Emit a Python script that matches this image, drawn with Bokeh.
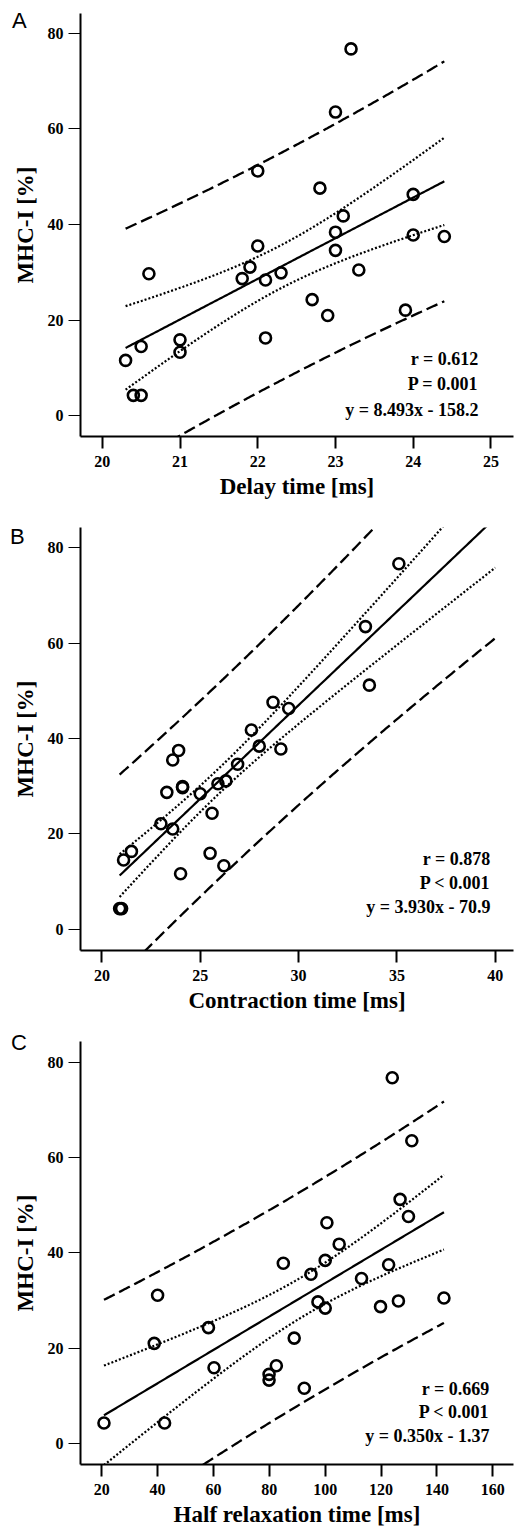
import numpy as np
from bokeh.plotting import figure
from bokeh.models import Label, FixedTicker, Range1d, Div
from bokeh.layouts import column
from bokeh.embed import file_html
from bokeh.resources import INLINE

# ---- data ----
mhc = [76.7, 63.5, 51.2, 47.6, 46.3, 41.8, 38.4, 37.8, 37.5, 35.5, 34.6, 31.1, 30.5, 29.9,
       29.7, 28.7, 28.4, 24.3, 22.1, 21.0, 16.3, 15.9, 14.5, 13.3, 11.6, 4.3, 4.3]
delay = [23.2, 23.0, 22.0, 22.8, 24.0, 23.1, 23.0, 24.0, 24.4, 22.0, 23.0, 21.9, 23.3, 22.3,
         20.6, 21.8, 22.1, 22.7, 23.9, 22.9, 22.1, 21.0, 20.5, 21.0, 20.3, 20.4, 20.5]
contraction = [35.1, 33.4, 33.6, 28.7, 29.5, 27.6, 28.0, 29.1, 23.9, 23.6, 26.9, 26.3, 25.9, 24.1,
               24.1, 23.3, 25.0, 25.6, 23.0, 23.6, 21.5, 25.5, 21.1, 26.2, 24.0, 20.9, 21.0]
half_relax = [124.0, 131.0, 126.8, 129.8, 100.6, 105.0, 100.0, 85.0, 122.7, 94.9, 113.0, 40.0, 142.5, 126.2,
              97.4, 119.8, 100.0, 58.2, 88.9, 38.8, 82.5, 60.2, 79.9, 79.9, 92.5, 20.8, 42.5]

x_labels = ["Delay time [ms]", "Contraction time [ms]", "Half relaxation time [ms]"]
letters = ["A", "B", "C"]
slopes = [8.493, 3.930, 0.350]
intercepts = [-158.2, -70.9, -1.37]
fit_x_max = [None, 40.0, None]
stat_r = ["r = 0.612", "r = 0.878", "r = 0.669"]
stat_p = ["P = 0.001", "P < 0.001", "P < 0.001"]
stat_eq = ["y = 8.493x - 158.2", "y = 3.930x - 70.9", "y = 0.350x - 1.37"]
x_ticks = [[20, 21, 22, 23, 24, 25], [20, 25, 30, 35, 40], [20, 40, 60, 80, 100, 120, 140, 160]]
y_ticks = [0, 20, 40, 60, 80]
x_ranges = [(19.72, 25.29), (18.91, 40.93), (12.4, 167.4)]
y_ranges = [(-4.3, 84.1), (-4.5, 84.3), (-4.4, 84.3)]

# band multipliers as drawn (t quantiles, df = 25)
ci_t = [1.708, 1.708, 1.708]
pred_t = [1.708, 2.485, 1.708]

SERIF = "Liberation Serif"
heights = [520, 514, 497]
tops = [13, 7, 7]
lefts = [78, 74, 80]
letter_css = [(12, 10), (10, 526), (11, 1032)]
stat_pos = [(24.84, [11.8, 6.6, 1.3]), (39.76, [14.7, 9.6, 4.6]), (158.8, [11.5, 6.6, 1.5])]
FRAME_H = 423


def panel(i, xs):
    xs_a = np.array(xs, dtype=float)
    ys_a = np.array(mhc, dtype=float)
    n = len(xs_a)
    h = heights[i]
    p = figure(width=514, height=h, output_backend="svg", toolbar_location=None,
               x_range=Range1d(*x_ranges[i]), y_range=Range1d(*y_ranges[i]),
               min_border_left=lefts[i], min_border_right=1,
               min_border_top=tops[i], min_border_bottom=h - tops[i] - FRAME_H)
    p.outline_line_color = None
    p.grid.visible = False
    p.background_fill_color = "white"
    p.border_fill_color = "white"

    b, a = slopes[i], intercepts[i]
    resid = ys_a - (a + b * xs_a)
    s = np.sqrt(np.sum(resid ** 2) / (n - 2))
    xm = xs_a.mean()
    sxx = np.sum((xs_a - xm) ** 2)
    x_hi = fit_x_max[i] if fit_x_max[i] is not None else xs_a.max()
    xx = np.linspace(xs_a.min(), x_hi, 200)
    yy = a + b * xx
    ci = ci_t[i] * s * np.sqrt(1.0 / n + (xx - xm) ** 2 / sxx)
    pi = pred_t[i] * s * np.sqrt(1.0 + 1.0 / n + (xx - xm) ** 2 / sxx)

    p.line(xx, yy + pi, line_color="black", line_width=2.3, line_dash="12 5")
    p.line(xx, yy - pi, line_color="black", line_width=2.3, line_dash="12 5")
    p.line(xx, yy + ci, line_color="black", line_width=2.2, line_dash="2 2")
    p.line(xx, yy - ci, line_color="black", line_width=2.2, line_dash="2 2")
    p.line(xx, yy, line_color="black", line_width=2.2)

    p.scatter(xs_a, ys_a, marker="circle", size=11, fill_alpha=0,
              line_color="black", line_width=2.6)

    for ax in (p.xaxis[0], p.yaxis[0]):
        ax.axis_line_width = 2
        ax.axis_line_color = "black"
        ax.major_tick_in = 0
        ax.major_tick_out = 12
        ax.minor_tick_line_color = None
        ax.major_label_text_font = SERIF
        ax.major_label_text_font_style = "bold"
        ax.major_label_text_font_size = "16px"
        ax.major_label_text_color = "black"
        ax.axis_label_text_font = SERIF
        ax.axis_label_text_font_style = "bold"
        ax.axis_label_text_font_size = "23px"
        ax.axis_label_text_color = "black"
    p.xaxis[0].ticker = FixedTicker(ticks=x_ticks[i])
    p.yaxis[0].ticker = FixedTicker(ticks=y_ticks)
    p.xaxis[0].major_tick_line_width = 2
    p.yaxis[0].major_tick_line_width = 1
    p.xaxis[0].major_label_standoff = 7
    p.yaxis[0].major_label_standoff = 5
    p.xaxis[0].axis_label = x_labels[i]
    p.yaxis[0].axis_label = "MHC-I [%]"
    p.xaxis[0].axis_label_standoff = 4
    p.yaxis[0].axis_label_standoff = 7

    sx, sys_ = stat_pos[i]
    for txt, yv in zip([stat_r[i], stat_p[i], stat_eq[i]], sys_):
        p.add_layout(Label(x=sx, y=yv, text=txt, text_font=SERIF, text_font_style="bold",
                           text_font_size="18px", text_align="right", text_baseline="middle",
                           text_color="black"))
    return p


plots = [panel(0, delay), panel(1, contraction), panel(2, half_relax)]

divs = []
for letter, (lx, ly) in zip(letters, letter_css):
    divs.append(Div(text=letter, width=30, height=30,
                    styles={"position": "absolute", "left": f"{lx}px", "top": f"{ly}px",
                            "font-family": "Liberation Sans", "font-size": "22px",
                            "line-height": "1", "color": "black", "z-index": "10",
                            "margin": "0"}))

layout = column(*plots, *divs, spacing=0)
open("out.html", "w").write(file_html(layout, INLINE))
